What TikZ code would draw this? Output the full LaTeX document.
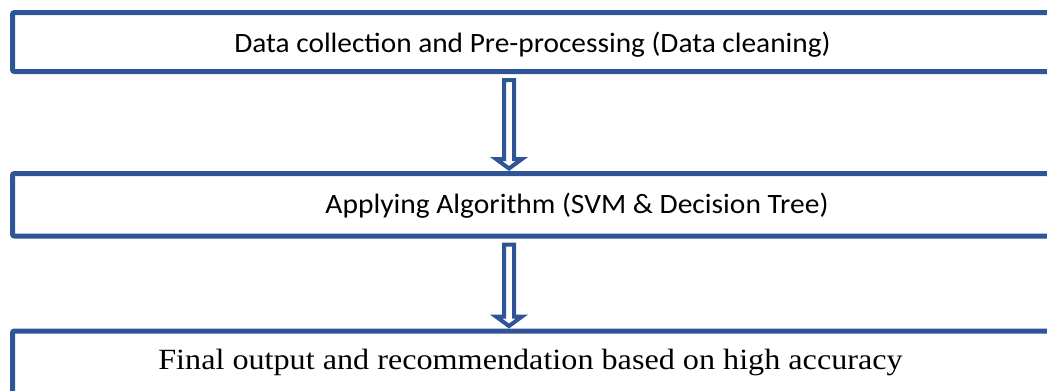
\documentclass[tikz,border=0pt]{standalone}
\usepackage{xcolor}
\usepackage{graphicx}
\usepackage{fontspec}
\setmainfont{Liberation Serif}
\newfontfamily\calibri{Carlito}
\usepackage{tikz}
\usetikzlibrary{positioning}
\usetikzlibrary{calc}
\definecolor{officeblue}{HTML}{2F5597}

% hollow block arrow from the bottom of #1 to the top of #2
\newcommand{\flowarrow}[2]{%
  \draw[hollow] ($(ax |- #1.south)+(-5,8.5)$) -- ($(ax |- #2.north)+(-5,-14.5)$) -- ++(-8,0)
    -- ($(ax |- #2.north)+(0,-5)$) -- ++(13,-9.5) -- ++(-8,0)
    -- ($(ax |- #1.south)+(5,8.5)$) -- cycle;}

\begin{document}
\begin{tikzpicture}[
    x=0.75pt, y=-0.75pt,
    box/.style={rectangle, draw=officeblue, line width=3.75pt, rounded corners=1.5pt, outer sep=0pt, minimum width=787.5pt},
    sans/.style={font=\calibri\fontsize{21}{25}\selectfont, inner sep=0pt, anchor=base},
    serif/.style={font=\fontsize{22}{26}\selectfont, inner sep=0pt, anchor=base},
    hollow/.style={draw=officeblue, line width=3pt, line join=miter, fill=white}
]
\useasboundingbox (0,0) rectangle (1047,390);
\clip (0,0) rectangle (1047,390);

\coordinate (ax) at (509,0);

\node[box, minimum height=44.25pt] (collect) at (537.5,42) {};
\node[box, minimum height=46.9pt] (apply) [below=76.5pt of collect] {};
\node[box, minimum height=51pt] (output) [below=71.25pt of apply] {};

\node[sans] (collect_txt) at (532.5,52) {\scalebox{1.048}[1]{Data collection and Pre-processing (Data cleaning)}};
\node[sans] (apply_txt) at (577,213) {\scalebox{1.053}[1]{Applying Algorithm (SVM \& Decision Tree)}};
\node[serif] (output_txt) at (530.5,369) {\scalebox{1.097}[1]{Final output and recommendation based on high accuracy}};

\flowarrow{collect}{apply}
\flowarrow{apply}{output}

\end{tikzpicture}
\end{document}
